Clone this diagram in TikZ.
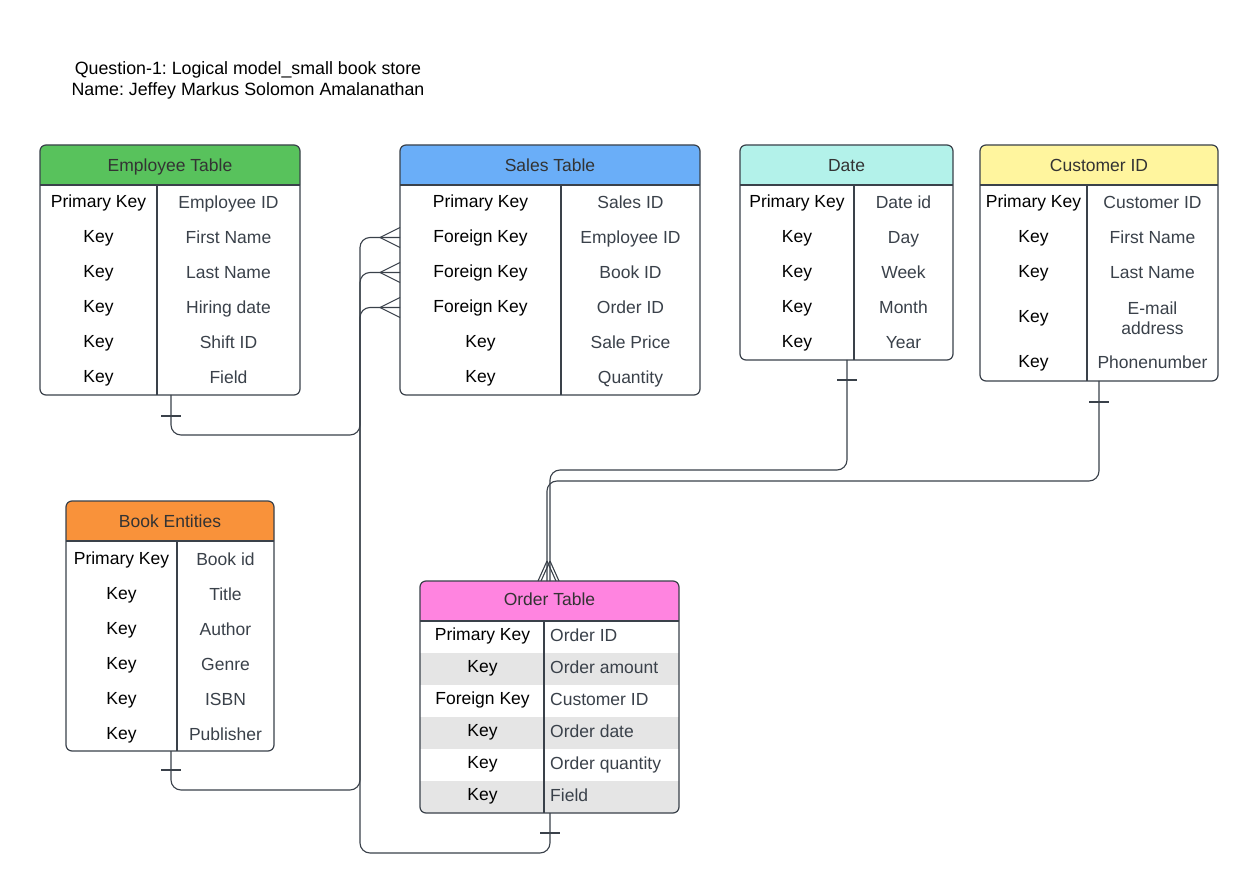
\documentclass[tikz,border=0pt]{standalone}
\usepackage{fontspec}
\setmainfont{Liberation Sans}
\usetikzlibrary{calc}
\frenchspacing
\definecolor{lc}{HTML}{3A414A}
\definecolor{valc}{HTML}{3A414A}
\definecolor{headc}{HTML}{333333}
\definecolor{cgreen}{HTML}{58C25C}
\definecolor{cblue}{HTML}{6AAEF8}
\definecolor{cteal}{HTML}{B3F2EA}
\definecolor{cyellow}{HTML}{FFF59E}
\definecolor{corange}{HTML}{F9923A}
\definecolor{cpink}{HTML}{FF84E0}
\definecolor{cgray}{HTML}{E5E5E5}
\tikzset{
  conn/.style={draw=lc, line width=1.1pt, rounded corners=10},
  tick/.style={draw=lc, line width=1.1pt},
  tframe/.style={draw=lc, line width=1.2pt, rounded corners=6, inner sep=0pt},
  tline/.style={draw=lc, line width=1.2pt},
  basetxt/.style={font=\fontsize{17.5}{20}\selectfont, inner sep=0pt, anchor=base},
  keyt/.style={basetxt, text=black},
  valt/.style={basetxt, text=valc},
  headt/.style={basetxt, text=headc},
  titlet/.style={basetxt, text=black, font=\fontsize{17.8}{21}\selectfont},
}
% #1 name, #2 left, #3 top, #4 right, #5 bottom, #6 divider x, #7 colour, #8 title, #9 title baseline offset
\newcommand\ertab[9]{%
  \fill[#7] (#2,#3+40) [rounded corners=6]-- (#2,#3) -- (#4,#3) [sharp corners]-- (#4,#3+40) -- cycle;
  \node[tframe, minimum width={(#4-#2)*1pt}, minimum height={(#5-#3)*1pt}] (#1) at ({(#2+#4)/2},{(#3+#5)/2}) {};
  \draw[tline] (#2,#3+40) -- (#4,#3+40);
  \draw[tline] (#6,#3+40) -- (#6,#5);
  \node[headt] (#1-h) at ({(#2+#4)/2},#3+#9) {#8};
}
% #1 prefix, #2 index, #3 baseline y, #4 key x, #5 key, #6 value x, #7 value
\newcommand\errow[7]{%
  \node[keyt] (#1-k#2) at (#4,#3) {#5};
  \node[valt] (#1-v#2) at (#6,#3+1) {#7};
}
\begin{document}
\begin{tikzpicture}[x=1pt,y=-1pt]
\useasboundingbox[fill=white] (0,0) rectangle (1259,893);

% title
\node[titlet] (title1) at (248,75) {Question-1: Logical model\_small book store};
\node[titlet] (title2) at (248,96) {Name: Jeffey Markus Solomon Amalanathan};

% Employee table
\ertab{emp}{40}{145}{300}{395}{157}{cgreen}{Employee Table}{26.5}
\errow{emp}{1}{208}{98.5}{Primary Key}{228.5}{Employee ID}
\errow{emp}{2}{243}{98.5}{Key}{228.5}{First Name}
\errow{emp}{3}{278}{98.5}{Key}{228.5}{Last Name}
\errow{emp}{4}{313}{98.5}{Key}{228.5}{Hiring date}
\errow{emp}{5}{348}{98.5}{Key}{228.5}{Shift ID}
\errow{emp}{6}{383}{98.5}{Key}{228.5}{Field}

% Sales table
\ertab{sales}{400}{145}{700}{395}{561}{cblue}{Sales Table}{26.5}
\errow{sales}{1}{208}{480.5}{Primary Key}{630.5}{Sales ID}
\errow{sales}{2}{243}{480.5}{Foreign Key}{630.5}{Employee ID}
\errow{sales}{3}{278}{480.5}{Foreign Key}{630.5}{Book ID}
\errow{sales}{4}{313}{480.5}{Foreign Key}{630.5}{Order ID}
\errow{sales}{5}{348}{480.5}{Key}{630.5}{Sale Price}
\errow{sales}{6}{383}{480.5}{Key}{630.5}{Quantity}

% Date table
\ertab{date}{740}{145}{953}{360}{854}{cteal}{Date}{26.5}
\errow{date}{1}{208}{797}{Primary Key}{903.5}{Date id}
\errow{date}{2}{243}{797}{Key}{903.5}{Day}
\errow{date}{3}{278}{797}{Key}{903.5}{Week}
\errow{date}{4}{313}{797}{Key}{903.5}{Month}
\errow{date}{5}{348}{797}{Key}{903.5}{Year}

% Customer table
\ertab{cust}{980}{145}{1218}{381}{1087}{cyellow}{Customer ID}{26.5}
\errow{cust}{1}{208}{1033.5}{Primary Key}{1152.5}{Customer ID}
\errow{cust}{2}{243}{1033.5}{Key}{1152.5}{First Name}
\errow{cust}{3}{278}{1033.5}{Key}{1152.5}{Last Name}
\node[keyt] (cust-k4) at (1033.5,322.5) {Key};
\node[valt, align=center, anchor=center] (cust-v4) at (1152.5,318) {E-mail\\address};
\errow{cust}{5}{368}{1033.5}{Key}{1152.5}{Phonenumber}

% Book table
\ertab{book}{66}{501}{274}{751}{177}{corange}{Book Entities}{26.5}
\errow{book}{1}{564}{121.5}{Primary Key}{225.5}{Book id}
\errow{book}{2}{599}{121.5}{Key}{225.5}{Title}
\errow{book}{3}{634}{121.5}{Key}{225.5}{Author}
\errow{book}{4}{669}{121.5}{Key}{225.5}{Genre}
\errow{book}{5}{704}{121.5}{Key}{225.5}{ISBN}
\errow{book}{6}{739}{121.5}{Key}{225.5}{Publisher}

% Order table (striped rows first)
\fill[cgray] (420,653) rectangle (679,685);
\fill[cgray] (420,717) rectangle (679,749);
\fill[cgray] (420,781) -- (679,781) [rounded corners=6]-- (679,813) -- (420,813) [sharp corners]-- cycle;
\ertab{ord}{420}{581}{679}{813}{544}{cpink}{Order Table}{24}
\tikzset{valt/.append style={anchor=base west}}
\errow{ord}{1}{640}{482.5}{Primary Key}{550}{Order ID}
\errow{ord}{2}{672}{482.5}{Key}{550}{Order amount}
\errow{ord}{3}{704}{482.5}{Foreign Key}{550}{Customer ID}
\errow{ord}{4}{736}{482.5}{Key}{550}{Order date}
\errow{ord}{5}{768}{482.5}{Key}{550}{Order quantity}
\errow{ord}{6}{800}{482.5}{Key}{550}{Field}

% connector end points on the tables
\coordinate (empB) at (171,395);
\coordinate (bookB) at (171,751);
\coordinate (ordB) at (550,813);
\coordinate (dateB) at (847,360);
\coordinate (custB) at (1099,381);
\coordinate (salesE) at (400,237.5);
\coordinate (salesBk) at (400,272.5);
\coordinate (salesO) at (400,307.5);
\coordinate (ordT1) at (550,581);
\coordinate (ordT2) at (547,581);

% connectors
\draw[conn] (empB) -- (171,435) -- (360,435) -- (360,237.5) -- (salesE);
\draw[conn] (bookB) -- (171,790) -- (360,790) -- (360,272.5) -- (salesBk);
\draw[conn] (ordB) -- (550,853) -- (360,853) -- (360,307.5) -- (salesO);
\draw[conn] (dateB) -- (847,470) -- (550,470) -- (ordT1);
\draw[conn] (custB) -- (1099,481) -- (547,481) -- (ordT2);

% "one" bars
\draw[tick] (161,416) -- (181,416);
\draw[tick] (161,770) -- (181,770);
\draw[tick] (540,833) -- (560,833);
\draw[tick] (837,380) -- (857,380);
\draw[tick] (1089,402) -- (1109,402);

% crow's feet
\foreach \c in {salesE,salesBk,salesO}{
  \draw[tick] ($(\c)+(-20,0)$) -- ($(\c)+(0,-10)$);
  \draw[tick] ($(\c)+(-20,0)$) -- ($(\c)+(0,10)$);
}
\foreach \c in {ordT1,ordT2}{
  \draw[tick] ($(\c)+(0,-20)$) -- ($(\c)+(-9,0)$);
  \draw[tick] ($(\c)+(0,-20)$) -- ($(\c)+(9,0)$);
}
\end{tikzpicture}
\end{document}
